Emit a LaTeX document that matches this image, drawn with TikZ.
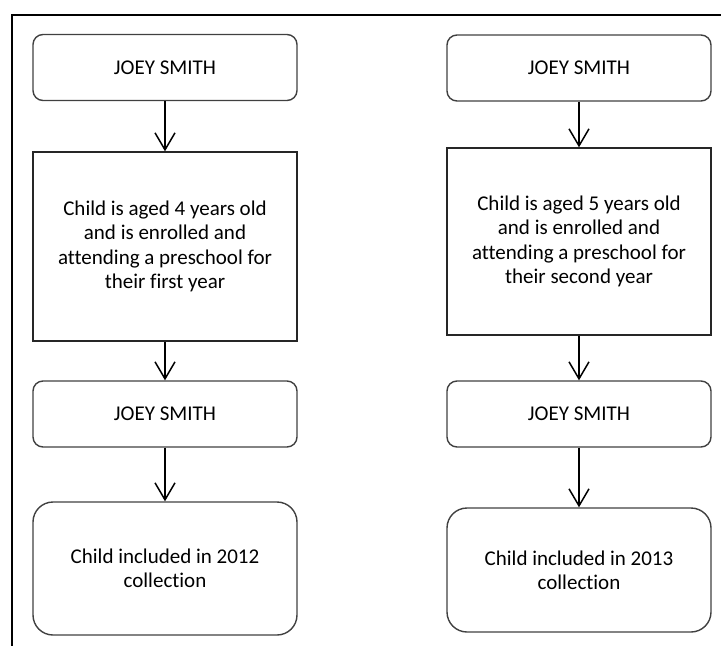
\documentclass[tikz,border=0pt]{standalone}
\usepackage{fontspec}
\setmainfont{Carlito}[Ligatures={NoCommon}]
\usetikzlibrary{arrows.meta}
\begin{document}
\begin{tikzpicture}[x=1pt,y=-1pt,
  every node/.style={font=\fontsize{21}{24.4}\selectfont, align=center, inner sep=0pt},
  roundbox/.style={draw=black!75, line width=1.4pt, rounded corners=10pt,
    minimum width=264pt, minimum height=66pt},
  biground/.style={roundbox, rounded corners=20pt},
  plainbox/.style={draw=black!85, line width=1.4pt, minimum width=264pt},
  flow/.style={line width=1.5pt, -{Straight Barb[length=17pt,width=20pt,line width=1.5pt]}}]
  \useasboundingbox (0,0) rectangle (721,646);
  % open frame: top and left edges only
  \coordinate (frameTR) at (721,15);
  \coordinate (frameTL) at (12,15);
  \coordinate (frameBL) at (12,646);
  \draw[line width=2pt] (frameTR) -- (frameTL) -- (frameBL);

  % first-year column
  \node[roundbox] (a1) at (165,67.5) {JOEY SMITH};
  \node[plainbox, minimum height=189pt] (a2) at (165,246.5)
    {Child is aged 4 years old\\and is enrolled and\\attending a preschool for\\their first year};
  \node[roundbox] (a3) at (165,414) {JOEY SMITH};
  \node[biground, minimum height=133pt] (a4) at (165,568.5)
    {Child included in 2012\\collection};

  % second-year column
  \node[roundbox] (b1) at (579,68) {JOEY SMITH};
  \node[plainbox, minimum height=187pt] (b2) at (579,241.5)
    {Child is aged 5 years old\\and is enrolled and\\attending a preschool for\\their second year};
  \node[roundbox] (b3) at (579,414) {JOEY SMITH};
  \node[biground, minimum height=124pt] (b4) at (579,570)
    {Child included in 2013\\collection};

  \draw[flow] (a1) -- (a2);
  \draw[flow] (a2) -- (a3);
  \draw[flow] (a3) -- (a4);
  \draw[flow] (b1) -- (b2);
  \draw[flow] (b2) -- (b3);
  \draw[flow] (b3) -- (b4);
\end{tikzpicture}
\end{document}
